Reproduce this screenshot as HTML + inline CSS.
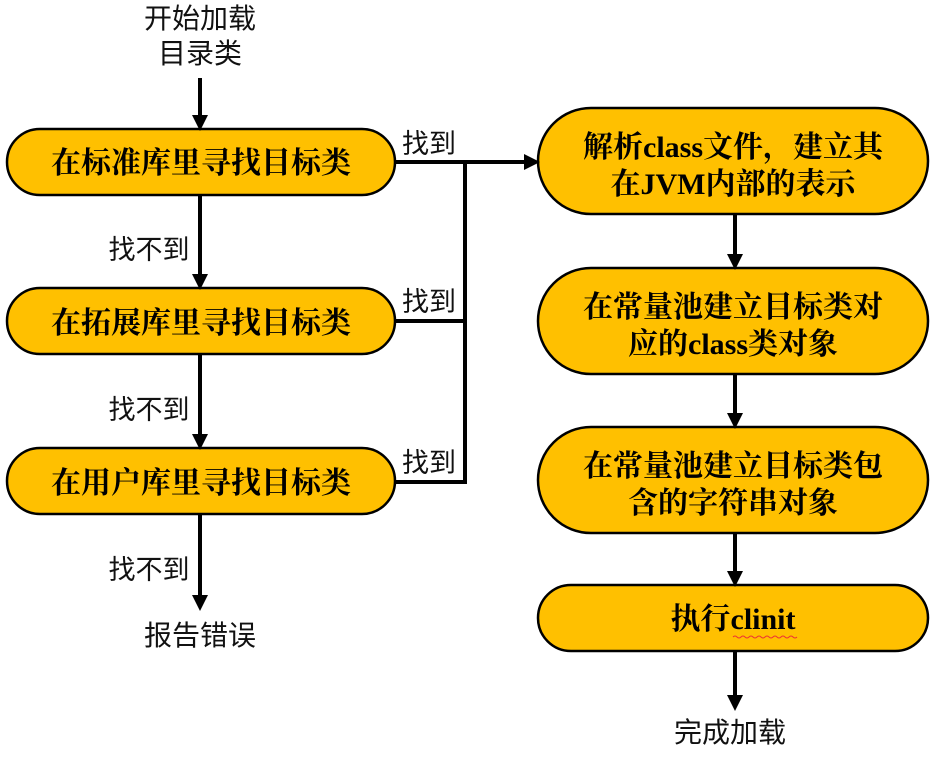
<!DOCTYPE html>
<html><head><meta charset="utf-8"><style>
html,body{margin:0;padding:0;background:#fff;width:938px;height:759px;overflow:hidden}
.b{font-family:"Liberation Serif","Noto Serif CJK SC",serif;font-weight:bold;font-size:30px;fill:#000}
.l{font-family:"Liberation Sans","Noto Sans CJK SC",sans-serif;font-size:28px;fill:#111}
.s{font-size:27px}
</style></head><body>
<svg width="938" height="759" xmlns="http://www.w3.org/2000/svg">
<defs><marker id="a" markerWidth="4" markerHeight="4" refX="3" refY="2" orient="auto" markerUnits="strokeWidth"><path d="M0,0 L4,2 L0,4 z" fill="#000"/></marker></defs>
<g fill="#FFC000" stroke="#000" stroke-width="2.5">
<rect x="7" y="129" width="388" height="66" rx="33"/>
<rect x="7" y="288" width="388" height="66" rx="33"/>
<rect x="7" y="448" width="388" height="66" rx="33"/>
<rect x="538" y="108" width="390" height="106" rx="53"/>
<rect x="538" y="268" width="390" height="106" rx="53"/>
<rect x="538" y="427" width="390" height="106" rx="53"/>
<rect x="538" y="585" width="390" height="66" rx="33"/>
</g>
<g stroke="#000" stroke-width="4" fill="none">
<line x1="200" y1="78" x2="200" y2="127" marker-end="url(#a)"/>
<line x1="200" y1="195" x2="200" y2="286" marker-end="url(#a)"/>
<line x1="200" y1="354" x2="200" y2="446" marker-end="url(#a)"/>
<line x1="200" y1="514" x2="200" y2="607" marker-end="url(#a)"/>
<line x1="395" y1="162" x2="536" y2="162" marker-end="url(#a)"/>
<polyline points="395,321 465,321"/>
<polyline points="395,482 465,482 465,162"/>
<line x1="735" y1="214" x2="735" y2="266" marker-end="url(#a)"/>
<line x1="735" y1="374" x2="735" y2="425" marker-end="url(#a)"/>
<line x1="735" y1="533" x2="735" y2="583" marker-end="url(#a)"/>
<line x1="735" y1="651" x2="735" y2="707" marker-end="url(#a)"/>
</g>
<g class="b" text-anchor="middle">
<text x="201" y="173">在标准库里寻找目标类</text>
<text x="201" y="333">在拓展库里寻找目标类</text>
<text x="201" y="493">在用户库里寻找目标类</text>
<text x="733" y="157">解析class文件，建立其</text>
<text x="733" y="194">在JVM内部的表示</text>
<text x="733" y="317">在常量池建立目标类对</text>
<text x="733" y="354">应的class类对象</text>
<text x="733" y="476">在常量池建立目标类包</text>
<text x="733" y="513">含的字符串对象</text>
<text x="733" y="629">执行clinit</text>
</g>
<path d="M733,637 q2,-2 4,0 t4,0 t4,0 t4,0 t4,0 t4,0 t4,0 t4,0 t4,0 t4,0 t4,0 t4,0 t4,0 t4,0 t4,0 t4,0" stroke="#e33" fill="none" stroke-width="1"/>
<g class="l" text-anchor="middle">
<text x="200" y="28">开始加载</text>
<text x="200" y="63">目录类</text>
<text class="s" x="149" y="259">找不到</text>
<text class="s" x="149" y="419">找不到</text>
<text class="s" x="149" y="579">找不到</text>
<text x="200" y="645">报告错误</text>
<text class="s" x="429" y="153">找到</text>
<text class="s" x="429" y="311">找到</text>
<text class="s" x="429" y="472">找到</text>
<text x="730" y="742">完成加载</text>
</g>
</svg>
</body></html>
